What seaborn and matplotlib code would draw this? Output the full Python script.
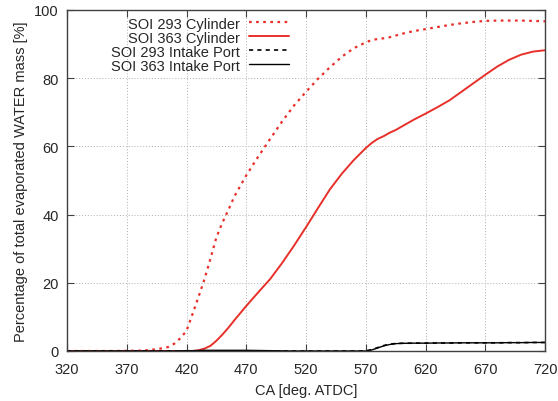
import numpy as np
import pandas as pd
import matplotlib
matplotlib.use('Agg')
import seaborn as sns
import matplotlib.pyplot as plt

# crank angle grid and evaporated water mass [%]
ca = [320, 340, 360, 380, 390, 400, 405, 410, 415, 420, 425, 430, 435, 440, 445,
      450, 455, 460, 470, 480, 490, 500, 510, 520, 530, 540, 550, 560, 570, 575,
      580, 585, 590, 595, 600, 610, 620, 630, 640, 650, 660, 670, 680, 690, 700,
      710, 720]

soi293_cyl = [0, 0, 0, 0.1, 0.3, 0.8, 1.2, 2.2, 3.8, 5.9, 10.8, 15.8, 21.0, 27.0, 33.3,
              37.6, 41.3, 45.3, 51.5, 57.0, 62.2, 67.3, 72.0, 76.0, 79.8, 83.2, 86.3, 88.8, 90.5, 91.2,
              91.5, 91.7, 92.0, 92.5, 93.0, 93.8, 94.4, 95.0, 95.6, 96.1, 96.5, 96.8, 96.9, 96.9, 96.9,
              96.8, 96.7]

soi363_cyl = [0, 0, 0, 0, 0, 0, 0, 0, 0, 0, 0, 0.2, 0.7, 1.5, 3.0,
              4.8, 6.8, 9.0, 13.2, 17.2, 21.1, 25.8, 30.9, 36.3, 41.9, 47.4, 52.0, 56.0, 59.5, 61.0,
              62.2, 63.0, 64.0, 64.8, 65.8, 67.8, 69.6, 71.5, 73.5, 76.0, 78.5, 81.0, 83.4, 85.4, 86.9,
              87.8, 88.2]

soi293_port = [0, 0, 0, 0, 0, 0, 0, 0, 0, 0, 0, 0, 0, 0, 0,
               0, 0, 0, 0, 0, 0, 0, 0, 0, 0, 0, 0, 0, 0.05, 0.4,
               1.0, 1.6, 2.0, 2.2, 2.25, 2.3, 2.3, 2.35, 2.35, 2.4, 2.4, 2.4, 2.4, 2.45, 2.45,
               2.5, 2.5]

soi363_port = [0, 0, 0, 0, 0, 0, 0, 0, 0.05, 0.1, 0.1, 0.15, 0.2, 0.2, 0.2,
               0.2, 0.2, 0.2, 0.2, 0.15, 0.1, 0.05, 0, 0, 0, 0, 0, 0, 0, 0.3,
               0.9, 1.5, 1.9, 2.15, 2.25, 2.3, 2.3, 2.35, 2.35, 2.4, 2.4, 2.4, 2.4, 2.45, 2.45,
               2.5, 2.5]

labels = ['SOI 293 Cylinder', 'SOI 363 Cylinder', 'SOI 293 Intake Port', 'SOI 363 Intake Port']

sns.set_style('ticks')
plt.rcParams['font.family'] = ['Liberation Sans', 'DejaVu Sans']
plt.rcParams['font.size'] = 10.5

red = '#e8302a'
styles = [
    (soi293_cyl, red, (0, (1.2, 2.0)), 1.6),
    (soi363_cyl, red, '-', 1.4),
    (soi293_port, 'black', (0, (2.5, 2.5)), 1.2),
    (soi363_port, 'black', '-', 1.0),
]

fig, ax = plt.subplots(figsize=(5.58, 4.02), dpi=100)
fig.subplots_adjust(left=67/558, right=545/558, top=1 - 11/402, bottom=1 - 352/402)

for (vals, col, ls, lw), lab in zip(styles, labels):
    df = pd.DataFrame({'CA': ca, 'val': vals})
    sns.lineplot(data=df, x='CA', y='val', color=col, linestyle=ls, linewidth=lw,
                 label=lab, ax=ax)

ax.set_xlim(320, 720)
ax.set_ylim(0, 100)
ax.set_xticks(np.arange(320, 721, 50))
ax.set_yticks(np.arange(0, 101, 20))
ax.set_xlabel('CA [deg. ATDC]', labelpad=5)
ax.set_ylabel('Percentage of total evaporated WATER mass [%]', labelpad=4)
ax.grid(True, color='#b0b0b0', linestyle=(0, (1, 2)), linewidth=0.7)
ax.tick_params(direction='in', length=5, top=True, right=True, color='#404040')
ax.tick_params(axis='x', pad=8)
ax.tick_params(axis='y', pad=6)
for s in ax.spines.values():
    s.set_color('#404040')
    s.set_linewidth(1.0)

leg = ax.legend(loc='upper right', bbox_to_anchor=(0.488, 1.013), frameon=False,
                markerfirst=False, handlelength=2.75, labelspacing=0.0,
                borderpad=0.25, handletextpad=0.65)
for col in leg._legend_box.get_children()[1].get_children():
    col.align = 'right'

fig.savefig('out.png', dpi=100)
